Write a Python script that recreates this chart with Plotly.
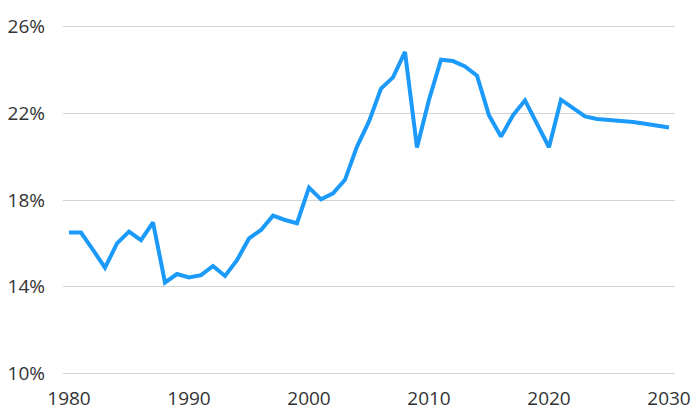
import plotly.graph_objects as go

years = list(range(1980, 2031))
share = [16.5, 16.5, 15.7, 14.88, 16.0, 16.54, 16.15, 16.97, 14.2, 14.59,
         14.43, 14.54, 14.96, 14.5, 15.23, 16.23, 16.62, 17.28, 17.08, 16.93,
         18.57, 18.03, 18.31, 18.93, 20.46, 21.62, 23.13, 23.65, 24.82, 20.42,
         22.62, 24.46, 24.4, 24.15, 23.73, 21.9, 20.92, 21.9, 22.59, 21.51,
         20.43, 22.62, 22.23, 21.85, 21.73, 21.68, 21.67, 21.59, 21.51, 21.43,
         21.34]
y_ticks = [10, 14, 18, 22, 26]
x_ticks = [1980, 1990, 2000, 2010, 2020, 2030]

fig = go.Figure()
fig.add_trace(go.Scatter(x=years, y=share, mode="lines",
                         line=dict(color="#1C9AFA", width=4),
                         hoverinfo="x+y"))

# page body has an 8px default margin, so the figure is sized to fit inside
font = dict(family="Open Sans", size=19, color="#333333")
fig.update_layout(
    width=692, height=405,
    margin=dict(l=55, r=25, t=14, b=35),
    paper_bgcolor="white", plot_bgcolor="white",
    showlegend=False,
    font=font,
    xaxis=dict(range=[1979.5, 2030.5], tickvals=x_ticks,
               ticktext=[str(v) for v in x_ticks],
               showgrid=False, zeroline=False, showline=False,
               ticks="", tickfont=font, ticklabelstandoff=7,
               automargin=False),
    yaxis=dict(range=[9.8, 26.2], tickvals=y_ticks,
               ticktext=[f"{v}%" for v in y_ticks],
               showgrid=True, gridcolor="#d4d4d4", gridwidth=1.3,
               zeroline=False, showline=False, ticks="",
               tickfont=font, ticklabelstandoff=17,
               automargin=False),
)
fig.write_html("out.html")
